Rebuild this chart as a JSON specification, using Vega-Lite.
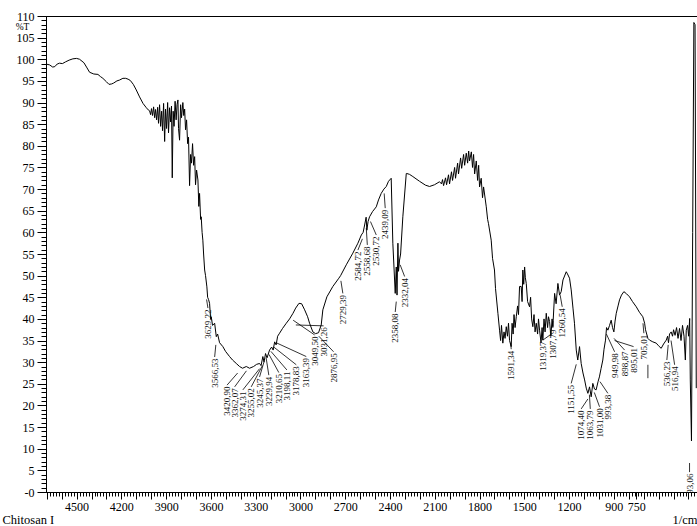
{
  "$schema": "https://vega.github.io/schema/vega-lite/v6.json",
  "width": 651,
  "height": 476,
  "autosize": {"type": "none"},
  "padding": {"left": 46, "top": 16, "right": 0, "bottom": 34},
  "background": "white",
  "config": {
    "font": "Liberation Serif",
    "view": {"stroke": null},
    "axis": {"grid": false, "domainColor": "black", "tickColor": "black", "labelColor": "black", "titleColor": "black", "domainWidth": 1, "tickWidth": 1, "labelFont": "Liberation Serif", "titleFont": "Liberation Serif", "titleFontWeight": "normal"}
  },
  "datasets": {
    "spectrum": [
      {"wn":4705,"t":98.9},{"wn":4681,"t":98.7},{"wn":4660,"t":98.2},{"wn":4646,"t":98.3},{"wn":4630,"t":98.9},{"wn":4614,"t":99.1},{"wn":4595,"t":99.0},{"wn":4574,"t":99.4},{"wn":4550,"t":99.8},{"wn":4525,"t":100.1},{"wn":4500,"t":100.2},{"wn":4480,"t":100.0},{"wn":4451,"t":99.2},{"wn":4430,"t":98.0},{"wn":4413,"t":97.0},{"wn":4385,"t":96.6},{"wn":4357,"t":96.5},{"wn":4340,"t":96.0},{"wn":4324,"t":95.6},{"wn":4300,"t":94.8},{"wn":4283,"t":94.2},{"wn":4265,"t":94.3},{"wn":4252,"t":94.5},{"wn":4230,"t":95.0},{"wn":4212,"t":95.2},{"wn":4190,"t":95.6},{"wn":4171,"t":95.6},{"wn":4155,"t":95.4},{"wn":4140,"t":95.1},{"wn":4120,"t":94.2},{"wn":4100,"t":92.9},{"wn":4078,"t":91.3},{"wn":4055,"t":89.8},{"wn":4035,"t":88.9},{"wn":4020,"t":88.3},
      {"wn":4011,"t":88.1},{"wn":4004,"t":87.2},{"wn":3998,"t":88.6},{"wn":3991,"t":87.0},{"wn":3984,"t":89.0},{"wn":3977,"t":86.5},{"wn":3971,"t":88.4},{"wn":3964,"t":86.0},{"wn":3957,"t":88.9},{"wn":3951,"t":85.2},{"wn":3944,"t":89.5},{"wn":3937,"t":84.5},{"wn":3930,"t":88.0},{"wn":3924,"t":83.5},{"wn":3917,"t":89.8},{"wn":3910,"t":81.0},{"wn":3904,"t":88.5},{"wn":3897,"t":84.0},{"wn":3890,"t":90.0},{"wn":3884,"t":83.0},{"wn":3877,"t":88.8},{"wn":3870,"t":85.5},{"wn":3864,"t":89.2},{"wn":3859,"t":72.6},{"wn":3853,"t":88.0},{"wn":3847,"t":84.5},{"wn":3840,"t":90.3},{"wn":3833,"t":86.0},{"wn":3827,"t":89.5},{"wn":3821,"t":90.6},{"wn":3817,"t":84.0},{"wn":3810,"t":81.3},{"wn":3803,"t":89.5},{"wn":3797,"t":86.5},{"wn":3788,"t":90.0},{"wn":3782,"t":87.0},{"wn":3776,"t":88.5},{"wn":3770,"t":83.7},{"wn":3763,"t":86.0},{"wn":3756,"t":80.5},{"wn":3750,"t":82.0},{"wn":3743,"t":70.8},{"wn":3736,"t":78.0},{"wn":3730,"t":76.0},{"wn":3723,"t":80.5},{"wn":3716,"t":75.5},{"wn":3709,"t":77.5},{"wn":3703,"t":71.0},{"wn":3696,"t":74.4},{"wn":3687,"t":72.1},{"wn":3681,"t":66.0},{"wn":3676,"t":69.0},{"wn":3669,"t":63.0},{"wn":3665,"t":63.6},{"wn":3659,"t":60.0},{"wn":3654,"t":58.2},{"wn":3649,"t":55.0},{"wn":3642,"t":51.3},{"wn":3636,"t":50.0},{"wn":3627,"t":47.4},{"wn":3622,"t":45.0},{"wn":3616,"t":44.5},{"wn":3609,"t":43.6},{"wn":3602,"t":40.0},{"wn":3598,"t":40.5},{"wn":3589,"t":38.5},{"wn":3575,"t":39.0},{"wn":3564,"t":35.9},{"wn":3555,"t":36.5},{"wn":3542,"t":34.5},{"wn":3520,"t":33.6},{"wn":3502,"t":32.5},{"wn":3475,"t":31.3},{"wn":3455,"t":30.5},{"wn":3430,"t":29.7},{"wn":3408,"t":29.0},{"wn":3388,"t":28.6},{"wn":3363,"t":29.0},{"wn":3341,"t":28.6},{"wn":3314,"t":29.0},{"wn":3294,"t":29.5},{"wn":3274,"t":29.7},
      {"wn":3264,"t":29.2},{"wn":3252,"t":31.3},{"wn":3244,"t":30.0},{"wn":3234,"t":32.0},{"wn":3224,"t":31.0},{"wn":3207,"t":32.8},{"wn":3193,"t":33.5},{"wn":3183,"t":32.8},{"wn":3173,"t":34.7},{"wn":3163,"t":34.0},{"wn":3153,"t":36.0},{"wn":3140,"t":36.7},{"wn":3120,"t":37.8},{"wn":3095,"t":39.0},{"wn":3073,"t":40.0},{"wn":3050,"t":41.3},{"wn":3032,"t":42.5},{"wn":3010,"t":43.6},{"wn":2992,"t":43.5},{"wn":2972,"t":42.1},{"wn":2952,"t":40.5},{"wn":2939,"t":39.0},{"wn":2917,"t":37.0},{"wn":2899,"t":36.6},{"wn":2879,"t":36.8},{"wn":2861,"t":38.6},{"wn":2850,"t":42.1},{"wn":2823,"t":45.1},{"wn":2783,"t":47.5},{"wn":2743,"t":49.4},{"wn":2731,"t":50.0},{"wn":2693,"t":52.5},{"wn":2649,"t":55.2},{"wn":2615,"t":57.5},{"wn":2592,"t":59.4},{"wn":2580,"t":60.0},{"wn":2570,"t":61.7},{"wn":2560,"t":63.5},{"wn":2555,"t":60.5},{"wn":2547,"t":62.5},{"wn":2537,"t":63.6},{"wn":2517,"t":64.8},{"wn":2492,"t":65.9},{"wn":2477,"t":67.5},{"wn":2459,"t":69.0},{"wn":2441,"t":70.0},{"wn":2425,"t":70.6},{"wn":2410,"t":71.8},{"wn":2392,"t":72.5},{"wn":2381,"t":57.5},{"wn":2365,"t":45.9},{"wn":2358,"t":52.0},{"wn":2353,"t":45.5},{"wn":2347,"t":57.5},{"wn":2343,"t":51.0},{"wn":2336,"t":53.6},{"wn":2329,"t":55.0},{"wn":2314,"t":63.6},{"wn":2291,"t":73.6},{"wn":2287,"t":73.6},{"wn":2269,"t":73.4},{"wn":2247,"t":72.9},{"wn":2202,"t":71.8},{"wn":2162,"t":70.9},{"wn":2135,"t":70.6},{"wn":2102,"t":71.0},{"wn":2068,"t":71.7},
      {"wn":2055,"t":71.2},{"wn":2048,"t":72.2},{"wn":2041,"t":70.8},{"wn":2028,"t":72.6},{"wn":2021,"t":71.0},{"wn":2008,"t":73.3},{"wn":2001,"t":71.2},{"wn":1988,"t":74.0},{"wn":1981,"t":72.0},{"wn":1967,"t":75.0},{"wn":1961,"t":72.5},{"wn":1947,"t":76.0},{"wn":1941,"t":73.5},{"wn":1927,"t":77.2},{"wn":1920,"t":74.8},{"wn":1907,"t":78.0},{"wn":1900,"t":75.5},{"wn":1889,"t":78.3},{"wn":1880,"t":76.0},{"wn":1873,"t":78.8},{"wn":1867,"t":76.5},{"wn":1855,"t":78.6},{"wn":1847,"t":75.0},{"wn":1840,"t":78.0},{"wn":1833,"t":73.5},{"wn":1822,"t":76.5},{"wn":1813,"t":72.0},{"wn":1806,"t":75.5},{"wn":1800,"t":70.5},{"wn":1789,"t":72.5},{"wn":1780,"t":68.0},{"wn":1773,"t":70.5},{"wn":1755,"t":65.9},{"wn":1746,"t":63.0},{"wn":1740,"t":62.0},{"wn":1722,"t":58.2},{"wn":1713,"t":54.0},{"wn":1700,"t":51.3},{"wn":1693,"t":47.0},{"wn":1677,"t":41.3},{"wn":1666,"t":37.4},
      {"wn":1659,"t":35.0},{"wn":1653,"t":38.5},{"wn":1644,"t":34.4},{"wn":1636,"t":37.0},{"wn":1629,"t":35.5},{"wn":1621,"t":38.2},{"wn":1613,"t":36.0},{"wn":1606,"t":39.0},{"wn":1599,"t":35.0},{"wn":1588,"t":33.6},{"wn":1582,"t":39.0},{"wn":1575,"t":36.5},{"wn":1569,"t":41.0},{"wn":1562,"t":38.0},{"wn":1554,"t":40.5},{"wn":1545,"t":43.0},{"wn":1539,"t":41.0},{"wn":1532,"t":47.5},{"wn":1521,"t":47.5},{"wn":1515,"t":44.0},{"wn":1510,"t":51.3},{"wn":1504,"t":48.0},{"wn":1498,"t":52.0},{"wn":1493,"t":49.5},{"wn":1487,"t":48.2},{"wn":1478,"t":44.0},{"wn":1465,"t":42.8},{"wn":1458,"t":45.0},{"wn":1451,"t":40.0},{"wn":1443,"t":38.2},{"wn":1435,"t":41.0},{"wn":1428,"t":37.0},{"wn":1420,"t":39.0},{"wn":1411,"t":36.5},{"wn":1405,"t":40.0},{"wn":1398,"t":37.4},{"wn":1388,"t":34.5},{"wn":1381,"t":38.0},{"wn":1376,"t":35.1},{"wn":1368,"t":40.0},{"wn":1361,"t":37.0},{"wn":1353,"t":41.3},{"wn":1344,"t":38.0},{"wn":1338,"t":40.5},{"wn":1331,"t":39.4},{"wn":1322,"t":36.0},{"wn":1314,"t":40.0},{"wn":1309,"t":38.2},{"wn":1297,"t":45.9},{"wn":1287,"t":43.5},{"wn":1275,"t":48.2},{"wn":1264,"t":45.5},{"wn":1253,"t":46.3},{"wn":1241,"t":49.0},{"wn":1219,"t":50.9},{"wn":1211,"t":50.4},{"wn":1197,"t":49.4},{"wn":1186,"t":46.7},{"wn":1174,"t":42.5},{"wn":1164,"t":39.0},{"wn":1152,"t":32.8},{"wn":1142,"t":30.5},{"wn":1130,"t":33.6},{"wn":1119,"t":29.7},{"wn":1107,"t":27.5},{"wn":1096,"t":25.9},{"wn":1085,"t":24.0},{"wn":1074,"t":22.8},{"wn":1063,"t":24.3},{"wn":1052,"t":22.0},{"wn":1041,"t":25.1},{"wn":1030,"t":23.8},{"wn":1019,"t":23.6},{"wn":1006,"t":25.5},{"wn":997,"t":26.6},{"wn":986,"t":28.5},{"wn":974,"t":30.5},{"wn":966,"t":33.0},{"wn":956,"t":35.1},{"wn":949,"t":38.0},{"wn":940,"t":37.4},{"wn":929,"t":38.5},{"wn":918,"t":39.7},{"wn":909,"t":38.0},{"wn":900,"t":37.0},{"wn":892,"t":39.5},{"wn":884,"t":41.3},{"wn":872,"t":43.0},{"wn":862,"t":44.4},{"wn":849,"t":45.5},{"wn":833,"t":46.3},{"wn":815,"t":45.8},{"wn":795,"t":45.1},{"wn":775,"t":44.0},{"wn":750,"t":42.8},{"wn":728,"t":41.5},{"wn":706,"t":40.5},{"wn":694,"t":39.0},{"wn":688,"t":37.5},{"wn":672,"t":35.5},{"wn":661,"t":35.1},{"wn":639,"t":34.7},{"wn":616,"t":34.4},{"wn":601,"t":33.8},{"wn":583,"t":33.2},{"wn":567,"t":34.2},{"wn":549,"t":35.1},{"wn":540,"t":36.0},{"wn":534,"t":34.5},{"wn":527,"t":36.5},{"wn":516,"t":37.0},{"wn":507,"t":36.0},{"wn":500,"t":37.5},{"wn":490,"t":36.2},{"wn":480,"t":38.0},{"wn":470,"t":35.5},{"wn":460,"t":37.8},{"wn":450,"t":35.0},{"wn":440,"t":38.5},{"wn":430,"t":36.0},{"wn":421,"t":30.5},{"wn":415,"t":37.4},{"wn":406,"t":38.5},{"wn":399,"t":36.0},{"wn":392,"t":40.1},{"wn":388,"t":25.9},{"wn":380,"t":11.8},{"wn":372,"t":60.0},{"wn":364,"t":108.5},{"wn":356,"t":108.0},{"wn":348,"t":24.0}
    ],
    "labels": [
      {"t":"3629,22","lx":3620,"ly":42.5,"px":3629,"py":44.5},
      {"t":"3566,53","lx":3575,"ly":31.2,"px":3567,"py":34.0},
      {"t":"3420,90","lx":3492,"ly":24.7,"px":3421,"py":27.5},
      {"t":"3362,07","lx":3441,"ly":24.3,"px":3362,"py":28.0},
      {"t":"3274,31","lx":3386,"ly":23.6,"px":3274,"py":28.5},
      {"t":"3255,02","lx":3330,"ly":24.3,"px":3255,"py":29.2},
      {"t":"3245,37","lx":3274,"ly":26.6,"px":3245,"py":30.0},
      {"t":"3229,94","lx":3212,"ly":27.0,"px":3230,"py":31.0},
      {"t":"3210,65","lx":3145,"ly":27.6,"px":3211,"py":31.8},
      {"t":"3198,11","lx":3091,"ly":28.2,"px":3198,"py":32.5},
      {"t":"3178,83","lx":3028,"ly":29.4,"px":3179,"py":33.5},
      {"t":"3163,39","lx":2961,"ly":31.3,"px":3163,"py":34.5},
      {"t":"3049,50","lx":2905,"ly":36.3,"px":3049,"py":39.7},
      {"t":"3031,26","lx":2845,"ly":38.4,"px":3031,"py":38.6},
      {"t":"2876,95","lx":2778,"ly":32.4,"px":2877,"py":36.0},
      {"t":"2729,39","lx":2716,"ly":45.9,"px":2729,"py":48.8},
      {"t":"2584,72","lx":2615,"ly":55.9,"px":2585,"py":58.5},
      {"t":"2558,68","lx":2552,"ly":57.1,"px":2559,"py":61.0},
      {"t":"2530,72","lx":2492,"ly":59.4,"px":2531,"py":62.5},
      {"t":"2439,09","lx":2432,"ly":65.6,"px":2439,"py":69.0},
      {"t":"2358,08","lx":2365,"ly":41.6,"px":2358,"py":44.0},
      {"t":"2332,04","lx":2302,"ly":49.8,"px":2332,"py":52.5},
      {"t":"1591,34","lx":1588,"ly":33.0,"px":1591,"py":34.5},
      {"t":"1319,37","lx":1376,"ly":35.1,"px":1319,"py":36.5},
      {"t":"1307,79","lx":1309,"ly":37.9,"px":1308,"py":39.5},
      {"t":"1260,54","lx":1246,"ly":42.8,"px":1260,"py":45.5},
      {"t":"1151,55","lx":1186,"ly":25.1,"px":1152,"py":29.5},
      {"t":"1074,40","lx":1119,"ly":19.2,"px":1074,"py":21.5},
      {"t":"1063,79","lx":1058,"ly":19.2,"px":1064,"py":22.5},
      {"t":"1031,00","lx":996,"ly":19.7,"px":1031,"py":23.0},
      {"t":"993,38","lx":940,"ly":22.8,"px":993,"py":25.5},
      {"t":"949,98","lx":895,"ly":32.4,"px":950,"py":36.5},
      {"t":"898,87","lx":828,"ly":32.8,"px":899,"py":35.5},
      {"t":"895,01","lx":768,"ly":33.6,"px":895,"py":35.0},
      {"t":"705,01","lx":699,"ly":36.7,"px":705,"py":39.0},
      {"t":"","lx":672,"ly":26.3,"px":672,"py":29.4},
      {"t":"536,23","lx":545,"ly":30.5,"px":536,"py":34.0},
      {"t":"516,94","lx":493,"ly":29.4,"px":517,"py":35.0},
      {"t":"393,06","lx":393,"ly":4.6,"px":393,"py":6.7}
    ]
  },
  "resolve": {"axis": {"x": "independent", "y": "independent"}},
  "layer": [
    {
      "data": {"name": "spectrum"},
      "mark": {"type": "line", "color": "black", "strokeWidth": 1},
      "encoding": {
        "x": {"field": "wn", "type": "quantitative", "sort": null,
          "scale": {"domain": [343, 4705], "reverse": true, "nice": false, "zero": false},
          "axis": {"orient": "bottom", "values": [400,500,600,700,750,800,900,1000,1100,1200,1300,1400,1500,1600,1700,1800,1900,2000,2100,2200,2300,2400,2500,2600,2700,2800,2900,3000,3100,3200,3300,3400,3500,3600,3700,3800,3900,4000,4100,4200,4300,4400,4500,4600,4700],
            "format": "d", "labelExpr": "indexof([4500,4200,3900,3600,3300,3000,2700,2400,2100,1800,1500,1200,900,750,450], datum.value) >= 0 ? datum.label : ''",
            "labelOverlap": false, "labelFontSize": 12, "labelPadding": 2, "tickSize": 7,
            "title": "1/cm", "titleX": 651, "titleY": 31, "titleAlign": "right", "titleBaseline": "alphabetic", "titleFontSize": 12.5}},
        "y": {"field": "t", "type": "quantitative",
          "scale": {"domain": [0, 110], "nice": false, "zero": false},
          "axis": {"orient": "left", "values": [0,5,10,15,20,25,30,35,40,45,50,55,60,65,70,75,80,85,90,95,100,105,110],
            "labelExpr": "datum.value == 0 ? '-0' : datum.label", "labelFontSize": 12, "labelPadding": 3, "tickSize": 9,
            "title": "%T", "titleAngle": 0, "titleX": -24, "titleY": 10.8, "titleAlign": "center", "titleBaseline": "middle", "titleFontSize": 9.5}},
        "order": {"field": "wn", "type": "quantitative", "sort": "descending"}
      }
    },
    {
      "data": {"name": "labels"},
      "mark": {"type": "rule", "color": "black", "strokeWidth": 0.8},
      "encoding": {
        "x": {"field": "lx", "type": "quantitative",
          "scale": {"domain": [343, 4705], "reverse": true, "nice": false, "zero": false},
          "axis": {"orient": "bottom", "values": [360,380,400,420,440,460,480,500,520,540,560,580,600,620,640,660,680,700,720,740,760,780,800,820,840,860,880,900,920,940,960,980,1000,1020,1040,1060,1080,1100,1120,1140,1160,1180,1200,1220,1240,1260,1280,1300,1320,1340,1360,1380,1400,1420,1440,1460,1480,1500,1520,1540,1560,1580,1600,1620,1640,1660,1680,1700,1720,1740,1760,1780,1800,1820,1840,1860,1880,1900,1920,1940,1960,1980,2000,2020,2040,2060,2080,2100,2120,2140,2160,2180,2200,2220,2240,2260,2280,2300,2320,2340,2360,2380,2400,2420,2440,2460,2480,2500,2520,2540,2560,2580,2600,2620,2640,2660,2680,2700,2720,2740,2760,2780,2800,2820,2840,2860,2880,2900,2920,2940,2960,2980,3000,3020,3040,3060,3080,3100,3120,3140,3160,3180,3200,3220,3240,3260,3280,3300,3320,3340,3360,3380,3400,3420,3440,3460,3480,3500,3520,3540,3560,3580,3600,3620,3640,3660,3680,3700,3720,3740,3760,3780,3800,3820,3840,3860,3880,3900,3920,3940,3960,3980,4000,4020,4040,4060,4080,4100,4120,4140,4160,4180,4200,4220,4240,4260,4280,4300,4320,4340,4360,4380,4400,4420,4440,4460,4480,4500,4520,4540,4560,4580,4600,4620,4640,4660,4680,4700],
            "labels": false, "tickSize": 4,
            "title": "Chitosan I", "titleX": -44, "titleY": 31, "titleAlign": "left", "titleBaseline": "alphabetic", "titleFontSize": 12.5}},
        "y": {"field": "ly", "type": "quantitative",
          "scale": {"domain": [0, 110], "nice": false, "zero": false},
          "axis": {"orient": "left", "values": [0,1,2,3,4,5,6,7,8,9,10,11,12,13,14,15,16,17,18,19,20,21,22,23,24,25,26,27,28,29,30,31,32,33,34,35,36,37,38,39,40,41,42,43,44,45,46,47,48,49,50,51,52,53,54,55,56,57,58,59,60,61,62,63,64,65,66,67,68,69,70,71,72,73,74,75,76,77,78,79,80,81,82,83,84,85,86,87,88,89,90,91,92,93,94,95,96,97,98,99,100,101,102,103,104,105,106,107,108,109,110],
            "labels": false, "tickSize": 5, "title": null}},
        "x2": {"field": "px"},
        "y2": {"field": "py"}
      }
    },
    {
      "data": {"name": "labels"},
      "mark": {"type": "text", "angle": 270, "align": "right", "baseline": "middle", "dx": -1.5, "font": "Liberation Serif", "fontSize": 9, "color": "#111111", "clip": true},
      "encoding": {
        "x": {"field": "lx", "type": "quantitative",
          "scale": {"domain": [343, 4705], "reverse": true, "nice": false, "zero": false},
          "axis": {"orient": "top", "ticks": false, "labels": false, "domain": true, "title": null}},
        "y": {"field": "ly", "type": "quantitative",
          "scale": {"domain": [0, 110], "nice": false, "zero": false},
          "axis": null},
        "text": {"field": "t"}
      }
    }
  ]
}
